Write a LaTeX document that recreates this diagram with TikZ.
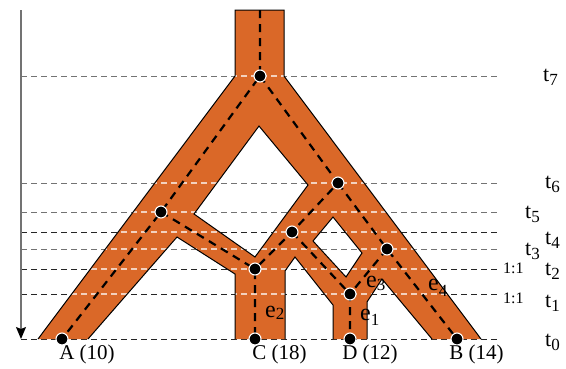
\documentclass[tikz,border=0pt]{standalone}
\usepackage{fontspec}
\setmainfont{Liberation Serif}
\usetikzlibrary{arrows.meta}
\definecolor{bandorange}{RGB}{218,104,40}
\newcommand\mysubs[2][4pt]{\raisebox{-#1}{\fontsize{17}{17}\selectfont #2}}
\tikzset{
  bandshape/.style={insert path={
    (235,10) -- (284,10) -- (284,76) -- (481,339) -- (432,339) -- (382,279) -- (367,302)
    -- (367,339) -- (333,339) -- (333,305) -- (295,257) -- (285,271) -- (285,339)
    -- (235,339) -- (235,274) -- (177,237) -- (88,339) -- (38,339) -- (235,76) -- cycle
    (259,126) -- (308,185) -- (255,257) -- (194,214) -- cycle
    (333,217) -- (362,253) -- (346,277) -- (313,241) -- cycle}},
  bandline/.style={draw=black, line width=1pt},
  tdark/.style={draw=black!85, line width=1pt, dash pattern=on 6pt off 4pt},
  tgray/.style={draw=black!55, line width=1pt, dash pattern=on 6pt off 4pt},
  tpale/.style={draw=white, draw opacity=0.7, line width=1.1pt, dash pattern=on 6pt off 4pt},
  cline/.style={draw=black, line width=2.2pt, dash pattern=on 8pt off 6pt},
  dot/.style={circle, fill=black, draw=white, line width=1.1pt, minimum size=12pt, inner sep=0pt},
  leaf/.style={font=\fontsize{21}{25}\selectfont, inner sep=0pt},
  tlab/.style={font=\fontsize{22}{26}\selectfont, inner sep=0pt, anchor=base west},
  elab/.style={font=\fontsize{24}{28}\selectfont, inner sep=0pt, anchor=base west},
  ratio/.style={font=\fontsize{16}{19}\selectfont, inner sep=0pt, anchor=base west},
}
\begin{document}
\begin{tikzpicture}[x=1pt,y=-1pt]
\useasboundingbox (0,0) rectangle (566,368);
% time lines
\coordinate (l7) at (21,76);  \coordinate (r7) at (498,76);
\coordinate (l6) at (21,183); \coordinate (r6) at (498,183);
\coordinate (l5) at (21,212); \coordinate (r5) at (498,212);
\coordinate (l4) at (21,232); \coordinate (r4) at (498,232);
\coordinate (l3) at (21,249); \coordinate (r3) at (498,249);
\coordinate (l2) at (21,269); \coordinate (r2) at (498,269);
\coordinate (l1) at (21,294); \coordinate (r1) at (498,294);
\coordinate (l0) at (21,339); \coordinate (r0) at (498,339);
\draw[tgray] (l7) -- (r7);
\draw[tgray] (l6) -- (r6);
\draw[tgray] (l5) -- (r5);
\draw[tdark] (l4) -- (r4);
\draw[tgray] (l3) -- (r3);
\draw[tdark] (l2) -- (r2);
\draw[tdark] (l1) -- (r1);
\draw[tdark] (l0) -- (r0);
% bands
\fill[bandorange, even odd rule, bandshape];
\begin{scope}[even odd rule]
  \clip (235,10) -- (284,10) -- (284,76) -- (481,339) -- (432,339) -- (382,279) -- (367,302)
    -- (367,339) -- (333,339) -- (333,305) -- (295,257) -- (285,271) -- (285,339)
    -- (235,339) -- (235,274) -- (177,237) -- (88,339) -- (38,339) -- (235,76) -- cycle
    (259,126) -- (308,185) -- (255,257) -- (194,214) -- cycle
    (333,217) -- (362,253) -- (346,277) -- (313,241) -- cycle;
  \foreach \k in {7,6,5,4,3,2,1} { \draw[tpale] (l\k) -- (r\k); }
\end{scope}
\draw[bandline] (38,339) -- (235,76) -- (235,10) -- (284,10) -- (284,76) -- (481,339);
\draw[bandline] (432,339) -- (382,279) -- (367,302) -- (367,339);
\draw[bandline] (333,339) -- (333,305) -- (295,257) -- (285,271) -- (285,339);
\draw[bandline] (235,339) -- (235,274) -- (177,237) -- (88,339);
\draw[bandline] (259,126) -- (308,185) -- (255,257) -- (194,214) -- cycle;
\draw[bandline] (333,217) -- (362,253) -- (346,277) -- (313,241) -- cycle;
% time arrow
\coordinate (ax0) at (21,10);
\coordinate (ax1) at (21,339);
\draw[draw=black!55, line width=1.1pt, -{Stealth[length=12pt, width=10pt, inset=2pt, color=black]}] (ax0) -- (ax1);
% centre lines
\coordinate (ptop) at (260,10);
\coordinate (p7) at (260,76);
\coordinate (pA) at (161,212);
\coordinate (pC) at (255,269);
\coordinate (p4) at (292,232);
\coordinate (p6) at (338,183);
\coordinate (p3) at (387,249);
\coordinate (pD) at (350,294);
\coordinate (pA0) at (62,339);
\coordinate (pC0) at (255,339);
\coordinate (pD0) at (350,339);
\coordinate (pB0) at (457,339);
\draw[cline] (ptop) -- (p7) -- (pA) -- (pA0);
\draw[cline] (pA) -- (pC) -- (pC0);
\draw[cline] (p7) -- (p6) -- (p4) -- (pC);
\draw[cline] (p4) -- (pD) -- (pD0);
\draw[cline] (p6) -- (p3) -- (pB0);
\draw[cline] (p3) -- (pD);
% dots
\node[dot] (d7) at (p7) {};
\node[dot] (dA) at (pA) {};
\node[dot] (dC) at (pC) {};
\node[dot] (d4) at (p4) {};
\node[dot] (d6) at (p6) {};
\node[dot] (d3) at (p3) {};
\node[dot] (dD) at (pD) {};
\node[dot] (dA0) at (pA0) {};
\node[dot] (dC0) at (pC0) {};
\node[dot] (dD0) at (pD0) {};
\node[dot] (dB0) at (pB0) {};
% leaf labels
\node[leaf] (labA) at (87,354) {A (10)};
\node[leaf] (labC) at (279.5,354) {C (18)};
\node[leaf] (labD) at (370,354) {D (12)};
\node[leaf] (labB) at (476.5,354) {B (14)};
% time labels
\node[tlab] (t7) at (543,81) {t\mysubs{7}};
\node[tlab] (t6) at (545,188) {t\mysubs{6}};
\node[tlab] (t5) at (525,218) {t\mysubs{5}};
\node[tlab] (t4) at (545,244) {t\mysubs{4}};
\node[tlab] (t3) at (525,255) {t\mysubs{3}};
\node[tlab] (t2) at (545,275) {t\mysubs{2}};
\node[tlab] (t1) at (545,307) {t\mysubs{1}};
\node[tlab] (t0) at (545,346) {t\mysubs{0}};
\node[ratio] (r21) at (503,273) {1:1};
\node[ratio] (r11) at (503,303) {1:1};
% edge labels
\node[elab] (e2) at (265,317) {e\mysubs[2pt]{2}};
\node[elab] (e1) at (360,320) {e\mysubs[5pt]{1}};
\node[elab] (e3) at (366,287) {e\mysubs[3pt]{3}};
\node[elab] (e4) at (428,290) {e\mysubs[6pt]{4}};
\end{tikzpicture}
\end{document}
